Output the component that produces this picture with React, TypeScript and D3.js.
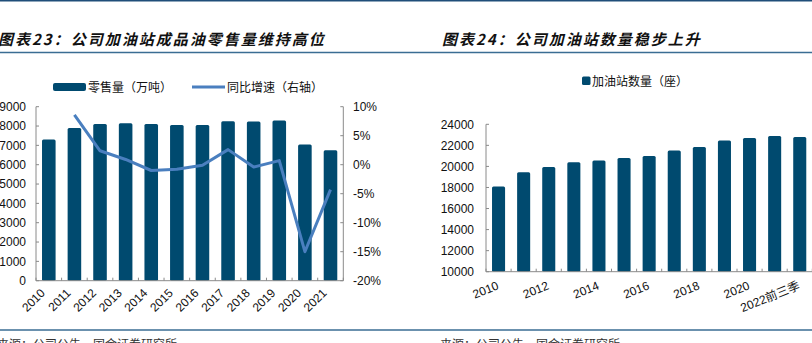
import React from "react";
import * as d3 from "d3";

const years = ["2010","2011","2012","2013","2014","2015","2016","2017","2018","2019","2020","2021"];
const retailVolume = [7300, 7900, 8100, 8150, 8100, 8050, 8050, 8250, 8230, 8280, 7050, 6750];
const yoyGrowth: (number | null)[] = [null, 8.6, 2.4, 0.9, -1.0, -0.8, -0.1, 2.6, -0.4, 0.7, -15.0, -4.3];
const leftTicks = [0, 1000, 2000, 3000, 4000, 5000, 6000, 7000, 8000, 9000];
const rightTicks = [-20, -15, -10, -5, 0, 5, 10];

const stationYears = ["2010","2011","2012","2013","2014","2015","2016","2017","2018","2019","2020","2021","2022前三季"];
const stationCounts = [18100, 19450, 19950, 20400, 20550, 20800, 21000, 21500, 21850, 22450, 22700, 22900, 22800];
const stationTicks = [10000, 12000, 14000, 16000, 18000, 20000, 22000, 24000];
const stationLabelShown = ["2010","2012","2014","2016","2018","2020","2022前三季"];

const title1 = "图表23：公司加油站成品油零售量维持高位";
const title2 = "图表24：公司加油站数量稳步上升";
const legend1a = "零售量（万吨）";
const legend1b = "同比增速（右轴）";
const legend2 = "加油站数量（座）";
const source = "来源：公司公告，国金证券研究所";

const BAR = "#004a6f";
const LINE = "#4a7fbf";
const AXIS = "#8a8a8a";
const RULE = "#3a6d93";
const FONT = "'Liberation Sans', Arial, 'Noto Sans CJK SC', sans-serif";
const CJK = "'Noto Sans CJK SC', sans-serif";

export default function App() {
  // Left chart scales
  const x1 = d3.scaleBand<string>().domain(years).range([36, 343.3]).paddingInner(0.47).paddingOuter(0.235);
  const y1 = d3.scaleLinear().domain([0, 9000]).range([280.7, 106.7]);
  const y1r = d3.scaleLinear().domain([-20, 10]).range([280.7, 106.7]);
  const lineGen = d3
    .line<number | null>()
    .defined((d) => d !== null)
    .x((_, i) => (x1(years[i]) as number) + x1.bandwidth() / 2)
    .y((d) => y1r(d as number));

  // Right chart scales
  const x2 = d3.scaleBand<string>().domain(stationYears).range([486, 812.3]).paddingInner(0.48).paddingOuter(0.24);
  const y2 = d3.scaleLinear().domain([10000, 24000]).range([271.7, 124.3]);

  const step1 = x1.step();
  const step2 = x2.step();

  return (
    <svg width={812} height={343} style={{ position: "absolute", left: 0, top: 0 }} fontFamily={FONT}>
      <rect x={0} y={0} width={812} height={343} fill="#fff" />
      {/* rules */}
      <line x1={0} x2={812} y1={0.5} y2={0.5} stroke="#1f4e79" strokeWidth={2} />
      <line x1={0} x2={812} y1={52.5} y2={52.5} stroke={RULE} strokeWidth={1.5} />
      <line x1={0} x2={812} y1={330} y2={330} stroke={RULE} strokeWidth={1.5} />

      {/* titles */}
      <text x={-2} y={45} fontFamily={CJK} fontSize={15} fontWeight="bold" fontStyle="italic" letterSpacing={2} fill="#111">{title1}</text>
      <text x={442} y={45} fontFamily={CJK} fontSize={15} fontWeight="bold" fontStyle="italic" letterSpacing={2} fill="#111">{title2}</text>

      {/* sources */}
      <text x={-3} y={349} fontFamily={CJK} fontSize={12} fill="#333">{source}</text>
      <text x={440} y={349} fontFamily={CJK} fontSize={12} fill="#333">{source}</text>

      {/* ===== Left chart ===== */}
      <g>
        {/* legend */}
        <rect x={53} y={83} width={33} height={8} rx={2} fill={BAR} />
        <text x={88} y={91.5} fontFamily={CJK} fontSize={12} fill="#111">{legend1a}</text>
        <line x1={192} x2={225} y1={87} y2={87} stroke={LINE} strokeWidth={3} />
        <text x={227} y={91.5} fontFamily={CJK} fontSize={12} fill="#111">{legend1b}</text>

        {/* bars */}
        {years.map((yr, i) => (
          <rect key={yr} x={x1(yr)} y={y1(retailVolume[i])} width={x1.bandwidth()} height={y1(0) - y1(retailVolume[i])} rx={1.5} fill={BAR} />
        ))}

        {/* axes */}
        <line x1={36} x2={36} y1={y1(9000)} y2={y1(0)} stroke={AXIS} />
        <line x1={343.3} x2={343.3} y1={y1(9000)} y2={y1(0)} stroke={AXIS} />
        <line x1={36} x2={343.3} y1={y1(0)} y2={y1(0)} stroke={AXIS} />
        {leftTicks.map((t) => (
          <g key={"lt" + t}>
            <line x1={36} x2={39} y1={y1(t)} y2={y1(t)} stroke={AXIS} />
            <text x={26} y={y1(t)} dy="0.35em" textAnchor="end" fontSize={12} fill="#111">{t}</text>
          </g>
        ))}
        {rightTicks.map((t) => (
          <g key={"rt" + t}>
            <line x1={340.3} x2={343.3} y1={y1r(t)} y2={y1r(t)} stroke={AXIS} />
            <text x={353} y={y1r(t)} dy="0.35em" textAnchor="start" fontSize={12} fill="#111">{t + "%"}</text>
          </g>
        ))}
        {d3.range(years.length + 1).map((i) => (
          <line key={"xt" + i} x1={36 + i * step1} x2={36 + i * step1} y1={y1(0)} y2={y1(0) - 3} stroke={AXIS} />
        ))}
        {years.map((yr) => {
          const cx = (x1(yr) as number) + x1.bandwidth() / 2;
          return (
            <text key={"xl" + yr} transform={`translate(${cx - 3},${y1(0) + 13}) rotate(-45)`} textAnchor="end" fontSize={12} fill="#111">{yr}</text>
          );
        })}

        {/* line */}
        <path d={lineGen(yoyGrowth) || ""} fill="none" stroke={LINE} strokeWidth={3} strokeLinejoin="round" />
      </g>

      {/* ===== Right chart ===== */}
      <g>
        <rect x={582} y={76.5} width={8.5} height={8.5} rx={1.5} fill={BAR} />
        <text x={592} y={85.5} fontFamily={CJK} fontSize={12} fill="#111">{legend2}</text>

        {stationYears.map((yr, i) => (
          <rect key={yr} x={x2(yr)} y={y2(stationCounts[i])} width={x2.bandwidth()} height={y2(10000) - y2(stationCounts[i])} rx={1.5} fill={BAR} />
        ))}

        <line x1={486} x2={486} y1={y2(24000)} y2={y2(10000)} stroke={AXIS} />
        <line x1={486} x2={812.3} y1={y2(10000)} y2={y2(10000)} stroke={AXIS} />
        {stationTicks.map((t) => (
          <g key={"st" + t}>
            <line x1={486} x2={489} y1={y2(t)} y2={y2(t)} stroke={AXIS} />
            <text x={474} y={y2(t)} dy="0.35em" textAnchor="end" fontSize={12} fill="#111">{t}</text>
          </g>
        ))}
        {d3.range(stationYears.length + 1).map((i) => (
          <line key={"x2t" + i} x1={486 + i * step2} x2={486 + i * step2} y1={y2(10000)} y2={y2(10000) - 3} stroke={AXIS} />
        ))}
        {stationYears.filter((yr) => stationLabelShown.includes(yr)).map((yr) => {
          const cx = (x2(yr) as number) + x2.bandwidth() / 2;
          return (
            <text key={"x2l" + yr} transform={`translate(${cx + 1},${y2(10000) + 17}) rotate(-22)`} textAnchor="end" fontSize={12} fill="#111">{yr}</text>
          );
        })}
      </g>
    </svg>
  );
}
